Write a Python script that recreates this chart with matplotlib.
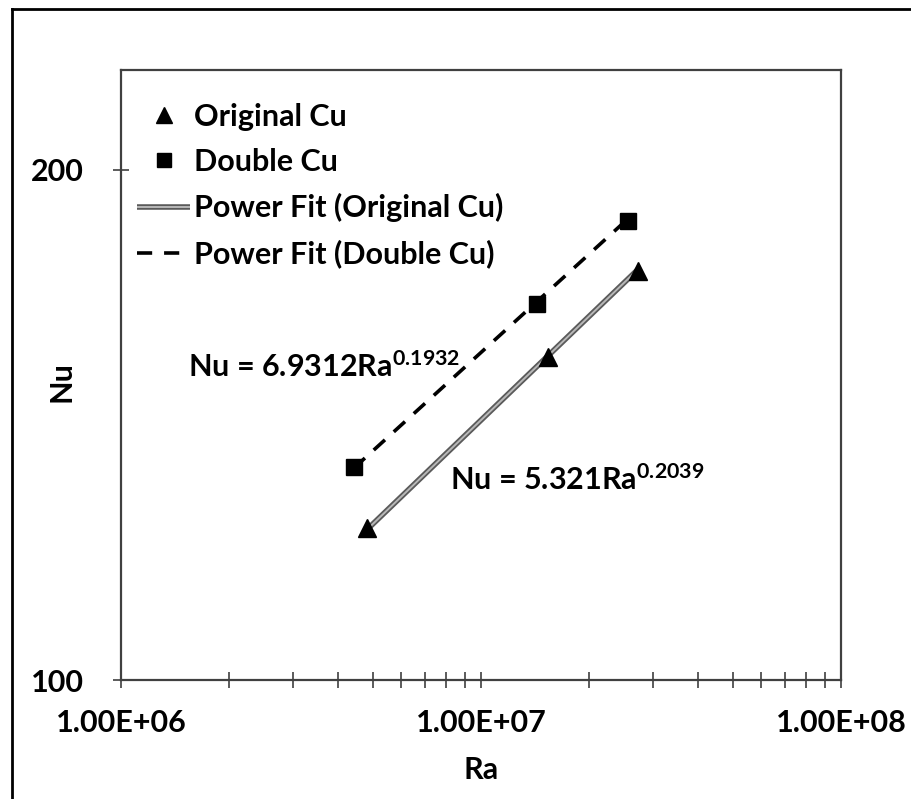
import numpy as np
import matplotlib.pyplot as plt
import matplotlib.patheffects as pe
from matplotlib.ticker import LogLocator, NullLocator, FixedLocator, FixedFormatter, NullFormatter
from matplotlib.lines import Line2D

plt.rcParams['font.family'] = ['Lato', 'DejaVu Sans']
plt.rcParams['font.weight'] = 'bold'
plt.rcParams['mathtext.fontset'] = 'custom'
plt.rcParams['mathtext.rm'] = 'Lato:bold'
plt.rcParams['mathtext.it'] = 'Lato:bold'
plt.rcParams['mathtext.bf'] = 'Lato:bold'

# data
ra_orig = [4.82e6, 1.535e7, 2.73e7]
nu_orig = [122.9, 155.1, 174.4]
ra_double = [4.43e6, 1.43e7, 2.56e7]
nu_double = [133.6, 166.7, 186.6]

# power fit coefficients (from the chart labels)
a_orig, b_orig = 5.321, 0.2039
a_double, b_double = 6.9312, 0.1932

x_ticks = [1e6, 1e7, 1e8]
x_ticklabels = ['1.00E+06', '1.00E+07', '1.00E+08']
y_ticks = [100, 200]

fig = plt.figure(figsize=(9.12, 7.99), dpi=100)
ax = fig.add_axes([121/912, 1-680/799, (841-121)/912, (680-70)/799])

ax.set_xscale('log')
ax.set_yscale('log')

xf = np.array([min(ra_orig), max(ra_orig)])
ax.plot(xf, a_orig*xf**b_orig, color='#b8b8b8', lw=1.4, solid_capstyle='butt',
        path_effects=[pe.Stroke(linewidth=4.0, foreground='#5a5a5a'), pe.Normal()],
        label='Power Fit (Original Cu)', zorder=2)
xd = np.array([min(ra_double), max(ra_double)])
ax.plot(xd, a_double*xd**b_double, color='black', lw=2.6, dashes=(4.2, 3.3),
        label='Power Fit (Double Cu)', zorder=2)

ax.plot(ra_orig, nu_orig, ls='none', marker='^', ms=12.5, color='black',
        label='Original Cu', zorder=3)
ax.plot(ra_double, nu_double, ls='none', marker='s', ms=11, color='black',
        label='Double Cu', zorder=3)

ax.set_xlim(1e6, 1e8)
ax.set_ylim(100, 229)

ax.xaxis.set_major_locator(FixedLocator(x_ticks))
ax.xaxis.set_major_formatter(FixedFormatter(x_ticklabels))
ax.xaxis.set_minor_locator(LogLocator(base=10, subs=np.arange(2, 10)))
ax.xaxis.set_minor_formatter(NullFormatter())
ax.yaxis.set_major_locator(FixedLocator(y_ticks))
ax.yaxis.set_major_formatter(FixedFormatter([str(v) for v in y_ticks]))
ax.yaxis.set_minor_locator(NullLocator())

ax.tick_params(which='both', direction='inout', length=12, width=1.2, color='#404040',
               labelsize=22)
ax.tick_params(axis='x', pad=15)
ax.tick_params(axis='y', pad=21)
for s in ax.spines.values():
    s.set_color('#404040')
    s.set_linewidth(1.6)

ax.set_xlabel('Ra', fontsize=22, fontweight='bold', va='center')
ax.xaxis.set_label_coords(0.5, -(770-680)/610)
ax.set_ylabel('Nu', fontsize=22, fontweight='bold', va='center')
ax.yaxis.set_label_coords((62-121)/720, (680-382)/610)

ax.text(188/912, 1-377/799, r'Nu = 6.9312Ra$^{0.1932}$', transform=fig.transFigure,
        fontsize=22, fontweight='bold', va='baseline', ha='left')
ax.text(450/912, 1-490/799, r'Nu = 5.321Ra$^{0.2039}$', transform=fig.transFigure,
        fontsize=22, fontweight='bold', va='baseline', ha='left')

h, l = ax.get_legend_handles_labels()
order = [2, 3, 0, 1]
ax.legend([h[i] for i in order], [l[i] for i in order], loc='upper left',
          bbox_to_anchor=(16/720, 0.946), frameon=False, fontsize=22,
          handlelength=1.75, handletextpad=0.12, labelspacing=0.56, borderpad=0,
          borderaxespad=0, markerscale=0.9)

# outer frame (cropped at right and bottom)
fig.add_artist(Line2D([12/912, 12/912], [-0.01, 1-9/799], color='black', lw=2,
                      transform=fig.transFigure))
fig.add_artist(Line2D([12/912, 1.01], [1-9/799, 1-9/799], color='black', lw=2,
                      transform=fig.transFigure))

fig.savefig('out.png', dpi=100)
